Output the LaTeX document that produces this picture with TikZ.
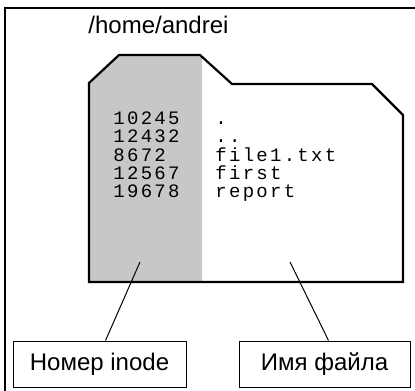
\documentclass[tikz,border=0pt]{standalone}
\usepackage{fontspec}
\setmainfont{Liberation Sans}
\newfontfamily\monofont[LetterSpace=12]{Liberation Mono}
\usetikzlibrary{positioning}
\tikzset{
	frame/.style={line width=0.75pt},
	folder/.style={line width=1.1pt, line join=miter},
	tagbox/.style={draw, line width=0.5pt, inner sep=0pt, minimum height=23pt, font=\fontsize{12}{14}\selectfont},
	row/.style={inner sep=0pt, anchor=north west, text height=6.5pt, text depth=2.25pt, font=\monofont\fontsize{9.5}{11}\selectfont},
	pointer/.style={line width=0.5pt}
}
\begin{document}
\begin{tikzpicture}[x=0.5pt, y=-0.5pt]
		\clip (0,0) rectangle (415,390);
		\draw[frame] (5,400) |- (425,8);
		\node (dir) [anchor=base west, inner sep=0pt, font=\fontsize{12}{14}\selectfont] at (88,34) {/home/andrei};
		% the directory file
		\begin{scope}
		\clip (0,0) rectangle (202,390);
		\fill[black!22] (89,282) -- (89,83) -- (119,55) -- (200,55) -- (232,84) -- (372,84) -- (403,115) -- (403,282) -- cycle;
		\end{scope}
		\draw[folder] (89,282) -- (89,83) -- (119,55) -- (200,55) -- (232,84) -- (372,84) -- (403,115) -- (403,282) -- cycle;
		% inode numbers
		\node (i1) [row] at (113,111) {10245};
		\node (i2) [row] at (i1.south west) {12432};
		\node (i3) [row] at (i2.south west) {8672};
		\node (i4) [row] at (i3.south west) {12567};
		\node (i5) [row] at (i4.south west) {19678};
		% file names
		\node (n1) [row] at (215,111) {.};
		\node (n2) [row] at (n1.south west) {..};
		\node (n3) [row] at (n2.south west) {file1.txt};
		\node (n4) [row] at (n3.south west) {first};
		\node (n5) [row] at (n4.south west) {report};
		% captions
		\node (tinode) [tagbox, minimum width=86.5pt] at (99.5,364) {Номер inode};
		\node (tname) [tagbox, minimum width=85.5pt] at (324.5,364) {Имя файла};
		\coordinate (pinode) at (140,262);
		\coordinate (pname) at (290,262);
		\draw[pointer] (pinode) -- ([xshift=3pt]tinode.north);
		\draw[pointer] (pname) -- ([xshift=2pt]tname.north);
\end{tikzpicture}
\end{document}
